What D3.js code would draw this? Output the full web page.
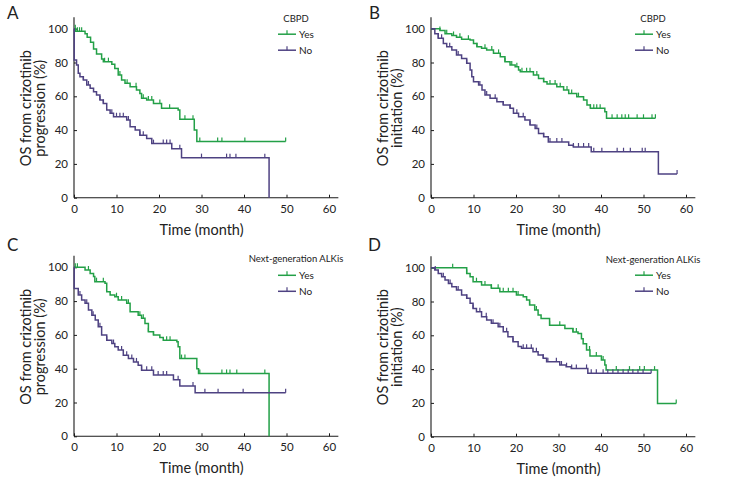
<!DOCTYPE html>
<html>
<head>
<meta charset="utf-8">
<script src="https://cdn.jsdelivr.net/npm/d3@7"></script>
<style>
  html, body { margin: 0; padding: 0; background: #fff; }
  svg { display: block; font-family: Lato, "Open Sans", sans-serif; }
</style>
</head>
<body>
<svg id="chart" width="735" height="477"></svg>
<script>
// ---------- data ----------
const panelLetters = ["A", "B", "C", "D"];
const yTitles = [
  ["OS from crizotinib", "progression (%)"],
  ["OS from crizotinib", "initiation (%)"],
  ["OS from crizotinib", "progression (%)"],
  ["OS from crizotinib", "initiation (%)"]
];
const xTitle = "Time (month)";
const legendTitles = ["CBPD", "CBPD", "Next-generation ALKis", "Next-generation ALKis"];
const seriesNames = ["Yes", "No"];
const xTicks = [0, 10, 20, 30, 40, 50, 60];
const yTicks = [0, 20, 40, 60, 80, 100];

// Panel A (CBPD, from crizotinib progression)
const aYesTimes = [0.4, 2.6, 3.1, 3.9, 4.6, 5.3, 6.5, 6.9, 8.9, 9.6, 10.4, 11.2, 12.0, 13.2, 14.7, 15.5, 15.9, 17.1, 18.7, 20.6, 24.5, 24.9, 28.3, 28.9];
const aYesSurv  = [98.5, 97, 95, 92, 88, 85, 82, 80.5, 79, 76.5, 72.6, 69.6, 67.7, 65.7, 63.7, 61.7, 58.8, 57.8, 55.8, 52.9, 51.9, 46.4, 40, 33.3];
const aYesCensor = [0.3, 0.8, 1.3, 1.8, 7.2, 8.1, 10.8, 12.5, 14.6, 16.3, 17.5, 18.3, 20.2, 22.5, 26.1, 28.0, 29.6, 33.8, 34.8, 40.2, 49.8];
const aNoTimes = [0.05, 0.6, 1.0, 1.4, 2.2, 3.0, 3.8, 4.6, 5.3, 6.1, 6.9, 7.7, 8.5, 9.3, 12.4, 13.2, 14.4, 15.5, 17.1, 18.3, 23.0, 25.3, 45.9];
const aNoSurv  = [81.5, 78.5, 73.6, 71.6, 69.6, 66.7, 64.7, 62.7, 60.7, 57.8, 55.8, 51.9, 49.9, 47.9, 46, 42, 40, 37, 35, 32, 29, 23.7, 0];
const aNoCensor = [2.2, 3.4, 6.1, 6.9, 8.9, 10.0, 10.8, 11.6, 12.8, 15.5, 16.3, 18.7, 21.0, 21.8, 22.6, 24.9, 30.0, 35.9, 36.7, 38.1, 44.9];

// Panel B (CBPD, from crizotinib initiation)
const bYesTimes = [2.1, 3.3, 4.9, 6.0, 7.2, 9.2, 10.0, 10.8, 11.9, 13.1, 14.7, 16.3, 17.4, 18.6, 19.8, 20.6, 21.0, 24.1, 25.3, 26.5, 27.3, 29.6, 31.2, 32.4, 34.3, 35.9, 36.7, 37.5, 40.9, 41.3];
const bYesSurv  = [99, 97, 96, 95, 93.7, 93.3, 91.3, 89.3, 88.4, 87.4, 85.4, 83.4, 80.5, 78.5, 77.5, 75.5, 74.6, 72.6, 70.6, 68.6, 67.3, 65.7, 63.7, 61.7, 59.8, 57.8, 54.8, 52.9, 50.9, 47];
const bYesCensor = [2.1, 3.7, 5.3, 6.8, 8.8, 10.8, 12.7, 14.3, 15.9, 17.4, 19.0, 20.2, 21.4, 22.5, 23.3, 24.9, 26.5, 28.0, 29.2, 30.4, 32.0, 33.1, 34.7, 37.5, 38.3, 39.0, 39.8, 42.6, 43.8, 44.9, 45.7, 46.5, 48.5, 50.0, 52.0, 52.8];
const bNoTimes = [0.9, 1.7, 2.9, 3.7, 4.9, 6.0, 7.2, 8.4, 9.2, 9.6, 10.0, 11.2, 12.0, 12.7, 13.9, 15.5, 17.0, 18.6, 19.4, 20.6, 22.1, 23.3, 24.5, 25.3, 26.5, 27.6, 32.4, 33.5, 37.7, 53.5];
const bNoSurv  = [97, 94.3, 91.3, 89.3, 87.4, 84.4, 82.4, 79.5, 75.5, 71.6, 68.6, 66.7, 63.7, 60.7, 58.8, 56.8, 54.8, 52.9, 49.9, 47.9, 46, 43, 41, 38, 36, 33, 31, 30, 27.2, 14];
const bNoCensor = [1.7, 2.5, 4.4, 6.4, 8.4, 11.5, 13.1, 15.1, 17.0, 18.6, 20.2, 21.7, 23.3, 24.9, 26.5, 28.0, 29.6, 30.8, 33.5, 34.7, 35.9, 37.1, 38.3, 40.2, 43.8, 45.3, 46.9, 49.7, 50.4, 57.9];

// Panel C (next-generation ALKis, from crizotinib progression)
const cYesTimes = [2.6, 3.8, 4.6, 4.9, 7.3, 7.7, 8.5, 9.6, 10.4, 12.4, 13.2, 15.1, 15.9, 16.7, 17.5, 18.7, 20.2, 21.0, 24.2, 24.5, 24.9, 28.9, 29.3, 45.9];
const cYesSurv  = [98.4, 96.4, 94.5, 91.5, 90.5, 85.6, 83.6, 82.6, 80.6, 78.7, 73.7, 71.7, 69.8, 66.8, 61.9, 59.9, 58.5, 56.9, 55.9, 53, 46, 40, 37.2, 0];
const cYesCensor = [0.3, 0.8, 3.4, 5.3, 6.9, 10.0, 11.2, 12.8, 15.5, 16.3, 17.5, 18.7, 21.8, 22.6, 25.3, 26.1, 29.6, 34.8, 35.9, 36.7, 38.3, 44.9];
const cNoTimes = [0.05, 1.0, 1.8, 2.6, 3.4, 4.2, 5.0, 5.7, 6.5, 7.7, 8.9, 9.6, 10.4, 11.6, 12.8, 14.0, 15.1, 15.9, 18.7, 23.4, 24.9, 28.5];
const cNoSurv  = [87.5, 83.6, 80.6, 78.7, 74.7, 71.7, 68.8, 64.8, 59.9, 56.9, 54.9, 53, 51, 48, 46, 44, 42, 39.1, 36.2, 33.5, 29.8, 25.7];
const cNoCensor = [1.4, 3.0, 4.5, 6.1, 7.7, 9.3, 11.2, 12.4, 13.6, 14.7, 15.9, 17.1, 18.3, 19.8, 21.0, 21.8, 24.5, 28.0, 30.8, 33.9, 39.8, 49.8];

// Panel D (next-generation ALKis, from crizotinib initiation)
const dYesTimes = [8.4, 9.2, 9.9, 11.9, 14.2, 16.2, 20.1, 21.7, 22.5, 23.2, 24.4, 25.2, 25.9, 27.9, 31.5, 33.4, 34.6, 35.4, 35.8, 36.6, 37.4, 40.1, 40.9, 41.2, 53.3];
const dYesSurv  = [96.6, 94.7, 91.7, 89.7, 87.8, 85.8, 83.8, 82.8, 80.9, 77.9, 75, 72, 70, 66, 64, 62, 61, 58, 55, 51.3, 47.7, 45.4, 42.4, 39.4, 19.7];
const dYesCensor = [5.1, 8.4, 10.7, 12.7, 14.2, 15.8, 17.0, 18.2, 19.3, 20.5, 23.2, 24.8, 27.9, 30.3, 33.4, 34.2, 37.3, 38.9, 40.5, 43.6, 46.7, 49.1, 50.2, 52.6, 57.7];
const dNoTimes = [0.9, 1.7, 2.5, 3.3, 4.1, 4.9, 6.0, 7.2, 8.4, 9.2, 9.9, 10.7, 11.9, 13.1, 14.2, 15.8, 17.0, 18.1, 19.3, 20.5, 21.3, 24.0, 25.2, 26.4, 27.2, 30.3, 31.8, 33.0, 36.9];
const dNoSurv  = [98.6, 96.6, 94.7, 92.7, 90.7, 88.8, 86.8, 83.8, 81.9, 78.9, 75.9, 74, 71, 69, 67.1, 65.1, 62.1, 59.2, 56.2, 53.3, 52.3, 50.3, 48.3, 46.4, 44.4, 42.4, 41.4, 40.4, 37.5];
const dNoCensor = [1.0, 2.9, 4.5, 6.4, 8.4, 9.9, 11.5, 13.0, 14.6, 16.2, 17.8, 19.3, 21.7, 22.5, 23.6, 24.8, 26.4, 27.5, 29.5, 30.7, 31.9, 33.1, 34.2, 36.6, 37.7, 38.9, 40.5, 41.6, 42.8, 44.0, 45.2, 46.4, 47.5, 48.7, 49.9, 51.8];

const panelSeries = [
  [[aYesTimes, aYesSurv, aYesCensor], [aNoTimes, aNoSurv, aNoCensor]],
  [[bYesTimes, bYesSurv, bYesCensor], [bNoTimes, bNoSurv, bNoCensor]],
  [[cYesTimes, cYesSurv, cYesCensor], [cNoTimes, cNoSurv, cNoCensor]],
  [[dYesTimes, dYesSurv, dYesCensor], [dNoTimes, dNoSurv, dNoCensor]]
];

// ---------- layout / style ----------
const colors = ["#23a047", "#4e4282"];
const axisColor = "#1a1a1a";
const textColor = "#222";
const layout = [
  { x0: 74,  yb: 197.7, legY: [-10.5, 5.5, 21.5] },
  { x0: 431, yb: 197.7, legY: [-10.5, 5.5, 21.5] },
  { x0: 74,  yb: 436.3, legY: [-8.5, 8, 24] },
  { x0: 431, yb: 436.7, legY: [-8.5, 7.5, 23.5] }
];
const letterPos = [[7, 18.5], [369, 18.5], [7, 251], [368, 251]];
const plotW = 255, plotH = 169;

const svg = d3.select("#chart");

function survAt(times, surv, t) {
  let s = 100;
  for (let i = 0; i < times.length; i++) { if (times[i] <= t) s = surv[i]; else break; }
  return s;
}

panelLetters.forEach((letter, p) => {
  const L = layout[p];
  const x = d3.scaleLinear().domain([0, 60]).range([L.x0, L.x0 + plotW]);
  const y = d3.scaleLinear().domain([0, 100]).range([L.yb, L.yb - plotH]);
  const g = svg.append("g");

  // panel letter
  svg.append("text").attr("x", letterPos[p][0]).attr("y", letterPos[p][1])
    .attr("font-size", 17).attr("fill", textColor).text(letter);

  // axes lines (extend beyond last tick)
  g.append("line").attr("x1", x(0)).attr("x2", x(62.2)).attr("y1", y(0)).attr("y2", y(0))
    .attr("stroke", axisColor).attr("stroke-width", 1.1);
  g.append("line").attr("x1", x(0)).attr("x2", x(0)).attr("y1", y(0)).attr("y2", y(106.8))
    .attr("stroke", axisColor).attr("stroke-width", 1.1);

  const xAxis = d3.axisBottom(x).tickValues(xTicks).tickSizeInner(-3).tickSizeOuter(0).tickPadding(7);
  const xg = g.append("g").attr("transform", `translate(0,${y(0)})`).call(xAxis);
  const yAxis = d3.axisLeft(y).tickValues(yTicks).tickSizeInner(-3).tickSizeOuter(0).tickPadding(6);
  const yg = g.append("g").attr("transform", `translate(${x(0)},0)`).call(yAxis);
  [xg, yg].forEach(a => {
    a.select(".domain").remove();
    a.selectAll("line").attr("stroke", axisColor);
    a.selectAll("text").attr("font-family", "Lato, sans-serif").attr("font-size", 11.5).attr("fill", textColor);
  });

  // axis titles
  g.append("text").attr("x", x(30)).attr("y", y(0) + 37).attr("text-anchor", "middle")
    .attr("font-size", 14.5).attr("fill", textColor).text(xTitle);
  const yc = (y(0) + y(100)) / 2 - 5;
  yTitles[p].forEach((t, i) => {
    const cx = x(0) - (i === 0 ? 48.5 : 34);
    g.append("text").attr("transform", `translate(${cx},${yc}) rotate(-90)`)
      .attr("text-anchor", "middle").attr("dy", "0.35em")
      .attr("font-size", 14.5).attr("fill", textColor).text(t);
  });

  // curves
  panelSeries[p].forEach(([times, surv, cens], si) => {
    const endT = Math.max(times[times.length - 1], d3.max(cens));
    const pts = [[0, 100]];
    let prev = 100;
    times.forEach((t, i) => { pts.push([t, prev]); pts.push([t, surv[i]]); prev = surv[i]; });
    if (surv[surv.length - 1] > 0) pts.push([endT, prev]);
    g.append("path")
      .attr("d", d3.line().x(d => x(d[0])).y(d => y(d[1]))(pts))
      .attr("fill", "none").attr("stroke", colors[si]).attr("stroke-width", 1.5);
    g.selectAll(null).data(cens).enter().append("line")
      .attr("x1", d => x(d)).attr("x2", d => x(d))
      .attr("y1", d => y(survAt(times, surv, d)))
      .attr("y2", d => y(survAt(times, surv, d)) - 4)
      .attr("stroke", colors[si]).attr("stroke-width", 1.2);
  });

  // legend
  const lx = L.x0 + 204, ltop = L.yb - plotH;
  g.append("text").attr("x", L.x0 + 222).attr("y", ltop + L.legY[0]).attr("dy", "0.35em")
    .attr("text-anchor", "middle").attr("font-size", 9.5).attr("fill", textColor).text(legendTitles[p]);
  seriesNames.forEach((name, si) => {
    const ly = ltop + L.legY[si + 1];
    g.append("line").attr("x1", lx).attr("x2", lx + 18).attr("y1", ly).attr("y2", ly)
      .attr("stroke", colors[si]).attr("stroke-width", 1.5);
    g.append("line").attr("x1", lx + 9).attr("x2", lx + 9).attr("y1", ly).attr("y2", ly - 4)
      .attr("stroke", colors[si]).attr("stroke-width", 1.2);
    g.append("text").attr("x", lx + 21).attr("y", ly).attr("dy", "0.35em")
      .attr("font-size", 10).attr("fill", textColor).text(name);
  });
});
</script>
</body>
</html>
